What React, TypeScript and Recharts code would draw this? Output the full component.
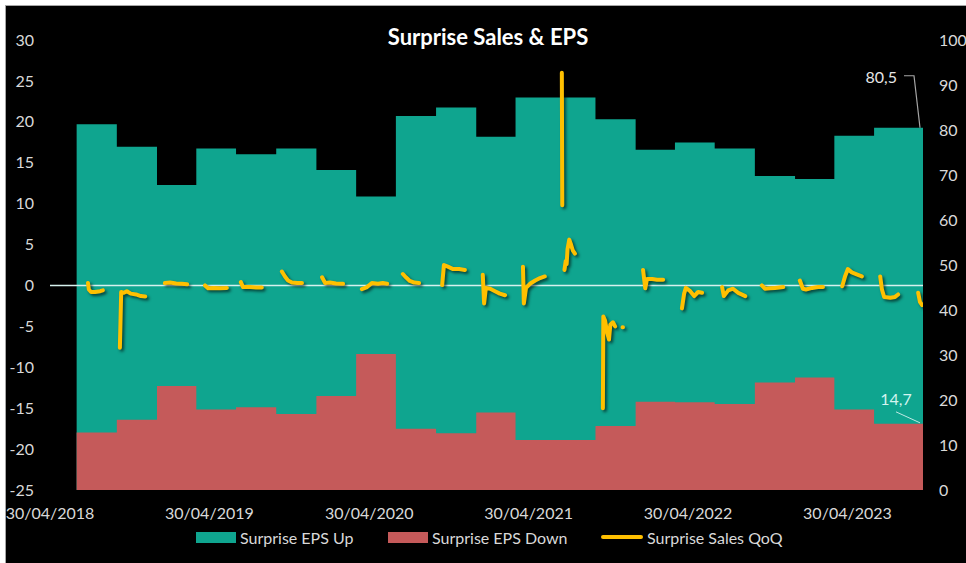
import React from 'react';
import {
  ComposedChart,
  Area,
  Line,
  XAxis,
  YAxis,
  ReferenceLine,
  ReferenceDot,
  Legend,
} from 'recharts';

// Quarterly share of companies beating / missing EPS estimates (%), right axis
const QUARTER_DATES = [
  '2018-06-30', '2018-09-30', '2018-12-31', '2019-03-31', '2019-06-30', '2019-09-30',
  '2019-12-31', '2020-03-31', '2020-06-30', '2020-09-30', '2020-12-31', '2021-03-31',
  '2021-06-30', '2021-09-30', '2021-12-31', '2022-03-31', '2022-06-30', '2022-09-30',
  '2022-12-31', '2023-03-31', '2023-06-30',
];
const EPS_UP = [
  81.3, 76.3, 67.8, 75.9, 74.6, 75.9, 71.1, 65.2, 83.1, 85.0, 78.5,
  87.2, 87.2, 82.4, 75.6, 77.2, 75.9, 69.8, 69.1, 78.7, 80.5,
];
const EPS_DOWN = [
  12.8, 15.6, 23.1, 17.9, 18.4, 16.9, 20.9, 30.2, 13.6, 12.6, 17.2,
  11.1, 11.1, 14.2, 19.6, 19.5, 19.1, 23.9, 25.0, 17.9, 14.7,
];
const LAST_DATE = '2023-10-20';

// Sales surprise QoQ (%), left axis: one run of daily readings per earnings season
const SALES_QOQ_SEGMENTS: Array<Array<[string, number]>> = [
  [['2018-07-26', 0.3], ['2018-07-28', -0.5], ['2018-08-02', -0.8], ['2018-08-11', -0.8], ['2018-08-23', -0.7], ['2018-08-29', -0.6]],
  [['2018-10-07', -7.6], ['2018-10-10', -0.8], ['2018-10-16', -0.9], ['2018-10-23', -0.7], ['2018-11-01', -1.0], ['2018-11-13', -1.1], ['2018-11-24', -1.3], ['2018-12-04', -1.35]],
  [['2019-01-18', 0.3], ['2019-01-30', 0.35], ['2019-02-13', 0.25], ['2019-02-26', 0.2], ['2019-03-10', 0.15]],
  [['2019-04-20', 0.0], ['2019-04-27', -0.35], ['2019-05-11', -0.3], ['2019-05-24', -0.35], ['2019-06-09', -0.3]],
  [['2019-07-11', 0.4], ['2019-07-16', -0.2], ['2019-08-01', -0.2], ['2019-08-15', -0.25], ['2019-08-28', -0.25]],
  [['2019-10-13', 1.7], ['2019-10-20', 1.1], ['2019-10-27', 0.6], ['2019-11-05', 0.35], ['2019-11-17', 0.3], ['2019-11-28', 0.3]],
  [['2020-01-13', 1.0], ['2020-01-20', 0.3], ['2020-01-31', 0.35], ['2020-02-14', 0.25], ['2020-03-01', 0.2]],
  [['2020-04-13', -0.45], ['2020-04-25', -0.2], ['2020-05-06', 0.3], ['2020-05-20', 0.2], ['2020-05-31', 0.3], ['2020-06-10', 0.2]],
  [['2020-07-16', 1.4], ['2020-07-23', 1.0], ['2020-08-01', 0.55], ['2020-08-11', 0.35], ['2020-08-22', 0.3]],
  [['2020-10-14', 0.05], ['2020-10-18', 2.5], ['2020-10-27', 2.3], ['2020-11-08', 2.0], ['2020-11-22', 2.0], ['2020-12-05', 1.9]],
  [['2021-01-15', 1.3], ['2021-01-18', -2.2], ['2021-01-22', -0.3], ['2021-02-01', -0.4], ['2021-02-12', -0.7], ['2021-02-23', -1.0], ['2021-03-07', -1.2]],
  [['2021-04-17', 2.3], ['2021-04-19', -2.2], ['2021-04-24', -0.3], ['2021-05-03', 0.2], ['2021-05-15', 0.6], ['2021-05-26', 0.9], ['2021-06-06', 1.1]],
  [['2021-07-15', 26.0], ['2021-07-16', 9.8]],
  [['2021-07-21', 1.9], ['2021-07-24', 3.0], ['2021-07-26', 2.6], ['2021-07-28', 4.4], ['2021-08-01', 5.6], ['2021-08-05', 5.0], ['2021-08-09', 4.3], ['2021-08-14', 3.9]],
  [['2021-10-17', -15.0], ['2021-10-18', -3.8], ['2021-10-22', -4.3], ['2021-10-27', -5.8], ['2021-10-31', -6.6], ['2021-11-03', -4.8], ['2021-11-09', -4.5], ['2021-11-14', -5.0]],
  [['2021-12-01', -5.1], ['2021-12-02', -5.1]],
  [['2022-01-17', 1.9], ['2022-01-22', -0.35], ['2022-01-26', 0.8], ['2022-02-07', 0.8], ['2022-02-18', 0.7], ['2022-03-04', 0.7]],
  [['2022-04-16', -2.8], ['2022-04-21', -1.0], ['2022-04-25', -0.3], ['2022-05-05', -0.7], ['2022-05-14', -1.3], ['2022-05-23', -0.8], ['2022-06-01', -0.9]],
  [['2022-07-17', -0.2], ['2022-07-21', -1.3], ['2022-07-31', -0.6], ['2022-08-11', -0.4], ['2022-08-23', -0.9], ['2022-09-08', -1.3]],
  [['2022-10-16', 0.0], ['2022-10-23', -0.4], ['2022-11-04', -0.35], ['2022-11-15', -0.3], ['2022-12-04', -0.2]],
  [['2023-01-11', 0.6], ['2023-01-18', -0.4], ['2023-01-25', -0.5], ['2023-02-08', -0.3], ['2023-02-22', -0.2], ['2023-03-05', -0.2]],
  [['2023-04-18', -0.1], ['2023-04-25', 1.2], ['2023-05-01', 2.0], ['2023-05-10', 1.6], ['2023-05-24', 1.3], ['2023-06-02', 1.1]],
  [['2023-07-14', 1.1], ['2023-07-18', -0.5], ['2023-07-23', -1.4], ['2023-08-06', -1.5], ['2023-08-17', -1.4], ['2023-08-24', -1.1]],
  [['2023-10-09', -0.9], ['2023-10-13', -2.0], ['2023-10-18', -2.4]],
];

const LEFT_TICKS = [-25, -20, -15, -10, -5, 0, 5, 10, 15, 20, 25, 30];
const RIGHT_TICKS = [0, 10, 20, 30, 40, 50, 60, 70, 80, 90, 100];
const DATE_TICKS = ['2018-04-30', '2019-04-30', '2020-04-30', '2021-04-30', '2022-04-30', '2023-04-30'];

const SERIES_NAMES = {
  up: 'Surprise EPS Up',
  down: 'Surprise EPS Down',
  sales: 'Surprise Sales QoQ',
};
const LEGEND_ORDER = ['up', 'down', 'sales'];

const COLORS = {
  up: '#0fa58f',
  down: '#c55a5a',
  sales: '#ffc000',
  tick: '#d9d9d9',
  zero: '#d6f1ee',
};

const FONT = 'Lato, "Liberation Sans", sans-serif';
const HALF_DAY = 43200000;

const toTime = (s: string) => {
  const [y, m, d] = s.split('-').map(Number);
  return Date.UTC(y, m - 1, d);
};
const pad = (n: number) => String(n).padStart(2, '0');
const formatDate = (t: number) => {
  const d = new Date(t);
  return `${pad(d.getUTCDate())}/${pad(d.getUTCMonth() + 1)}/${d.getUTCFullYear()}`;
};
const formatValue = (v: number) => v.toFixed(1).replace('.', ',');

type Row = { t: number; up?: number; down?: number; sales?: number | null };

const buildRows = (): Row[] => {
  const rows: Row[] = QUARTER_DATES.map((d, i) => ({ t: toTime(d), up: EPS_UP[i], down: EPS_DOWN[i] }));
  rows.push({ t: toTime(LAST_DATE), up: EPS_UP[EPS_UP.length - 1], down: EPS_DOWN[EPS_DOWN.length - 1] });
  SALES_QOQ_SEGMENTS.forEach((seg) => {
    seg.forEach(([d, v]) => rows.push({ t: toTime(d), sales: v }));
    // break the line after each earnings season
    rows.push({ t: toTime(seg[seg.length - 1][0]) + HALF_DAY, sales: null });
  });
  return rows.sort((a, b) => a.t - b.t);
};

const ROWS = buildRows();
const X_DOMAIN = [toTime(DATE_TICKS[0]), toTime(LAST_DATE)];
const X_TICKS = DATE_TICKS.map(toTime);

const UpValueLabel = (props: any) => {
  const { cx, cy } = props;
  const v = EPS_UP[EPS_UP.length - 1];
  return (
    <g>
      <polyline
        points={`${cx - 19},${cy - 52} ${cx - 9},${cy - 52} ${cx - 3},${cy}`}
        fill="none"
        stroke="#a6a6a6"
        strokeWidth={1.2}
      />
      <text x={cx - 26} y={cy - 51} textAnchor="end" dominantBaseline="central" fill="#e6e6e6" fontSize={16} fontFamily={FONT}>
        {formatValue(v)}
      </text>
    </g>
  );
};

const DownValueLabel = (props: any) => {
  const { cx, cy } = props;
  const v = EPS_DOWN[EPS_DOWN.length - 1];
  return (
    <g>
      <line x1={cx - 27} y1={cy - 12} x2={cx - 3} y2={cy - 1} stroke="#bfe9e4" strokeWidth={1} />
      <text x={cx - 27} y={cy - 25} textAnchor="middle" dominantBaseline="central" fill="#d4f4ef" fontSize={16} fontFamily={FONT}>
        {formatValue(v)}
      </text>
    </g>
  );
};

const ITEM_WIDTHS = [192, 213, 190];

const LegendRow = (props: any) => {
  const payload = [...((props.payload || []) as any[])].sort(
    (a, b) => LEGEND_ORDER.indexOf(a.dataKey) - LEGEND_ORDER.indexOf(b.dataKey),
  );
  return (
    <div style={{ display: 'flex', alignItems: 'center', height: 24, fontFamily: FONT, fontSize: 16, color: COLORS.tick }}>
      {payload.map((entry, i) => {
        const key = entry.dataKey as 'up' | 'down' | 'sales';
        const color = COLORS[key];
        const swatch =
          key === 'sales' ? (
            <span style={{ display: 'inline-block', width: 42, height: 4, background: color, borderRadius: 2 }} />
          ) : (
            <span style={{ display: 'inline-block', width: 40, height: 11, background: color }} />
          );
        return (
          <div key={key} style={{ display: 'flex', alignItems: 'center', width: ITEM_WIDTHS[i], whiteSpace: 'nowrap' }}>
            {swatch}
            <span style={{ marginLeft: 4 }}>{entry.value}</span>
          </div>
        );
      })}
    </div>
  );
};

const tickStyle = { fill: COLORS.tick, fontSize: 16, fontFamily: FONT };

export default function App() {
  return (
    <div style={{ position: 'absolute', left: 0, top: 0, width: 966, height: 563, background: '#ffffff', overflow: 'hidden' }}>
      <style>{`.sales-line path { filter: drop-shadow(2px 2px 1.5px rgba(0,0,0,0.6)); }`}</style>
      <div
        style={{
          position: 'absolute',
          left: 5,
          top: 5,
          width: 961,
          height: 558,
          background: '#000000',
          borderTop: '1px solid #a6a6a6',
          borderLeft: '1px solid #a6a6a6',
          boxSizing: 'border-box',
        }}
      />
      <div
        style={{
          position: 'absolute',
          left: 288,
          top: 24,
          width: 400,
          textAlign: 'center',
          color: '#ffffff',
          fontFamily: FONT,
          fontWeight: 700,
          fontSize: 22,
          lineHeight: '26px',
        }}
      >
        Surprise Sales &amp; EPS
      </div>
      <div style={{ position: 'absolute', left: 0, top: 0 }}>
        <ComposedChart width={966} height={563} data={ROWS} margin={{ top: 40, right: 3, left: 10, bottom: 14 }}>
          <XAxis
            dataKey="t"
            type="number"
            domain={X_DOMAIN}
            ticks={X_TICKS}
            interval={0}
            allowDataOverflow
            tickFormatter={formatDate}
            axisLine={false}
            tickLine={false}
            tickSize={0}
            tickMargin={18}
            height={35}
            tick={tickStyle}
          />
          <YAxis
            yAxisId="left"
            orientation="left"
            domain={[-25, 30]}
            ticks={LEFT_TICKS}
            interval={0}
            allowDataOverflow
            axisLine={false}
            tickLine={false}
            tickSize={0}
            tickMargin={16}
            width={40}
            tick={tickStyle}
          />
          <YAxis
            yAxisId="right"
            orientation="right"
            domain={[0, 100]}
            ticks={RIGHT_TICKS}
            interval={0}
            allowDataOverflow
            axisLine={false}
            tickLine={false}
            tickSize={0}
            tickMargin={16}
            width={40}
            tick={{ ...tickStyle, textAnchor: 'start' }}
          />
          <Area
            yAxisId="right"
            dataKey="up"
            name={SERIES_NAMES.up}
            type="stepAfter"
            fill={COLORS.up}
            fillOpacity={1}
            stroke="none"
            connectNulls
            legendType="rect"
            isAnimationActive={false}
          />
          <Area
            yAxisId="right"
            dataKey="down"
            name={SERIES_NAMES.down}
            type="stepAfter"
            fill={COLORS.down}
            fillOpacity={1}
            stroke="none"
            connectNulls
            legendType="rect"
            isAnimationActive={false}
          />
          <ReferenceLine yAxisId="left" y={0} stroke={COLORS.zero} strokeWidth={1.5} />
          <Line
            yAxisId="left"
            dataKey="sales"
            name={SERIES_NAMES.sales}
            className="sales-line"
            type="linear"
            stroke={COLORS.sales}
            strokeWidth={4}
            strokeLinejoin="round"
            strokeLinecap="round"
            dot={false}
            activeDot={false}
            connectNulls={false}
            legendType="line"
            isAnimationActive={false}
          />
          <ReferenceDot
            yAxisId="right"
            x={toTime(LAST_DATE)}
            y={EPS_UP[EPS_UP.length - 1]}
            r={0}
            ifOverflow="visible"
            shape={UpValueLabel}
          />
          <ReferenceDot
            yAxisId="right"
            x={toTime(LAST_DATE)}
            y={EPS_DOWN[EPS_DOWN.length - 1]}
            r={0}
            ifOverflow="visible"
            shape={DownValueLabel}
          />
          <Legend
            verticalAlign="bottom"
            content={LegendRow}
            wrapperStyle={{ left: 196, width: 620, height: 24 }}
          />
        </ComposedChart>
      </div>
    </div>
  );
}
